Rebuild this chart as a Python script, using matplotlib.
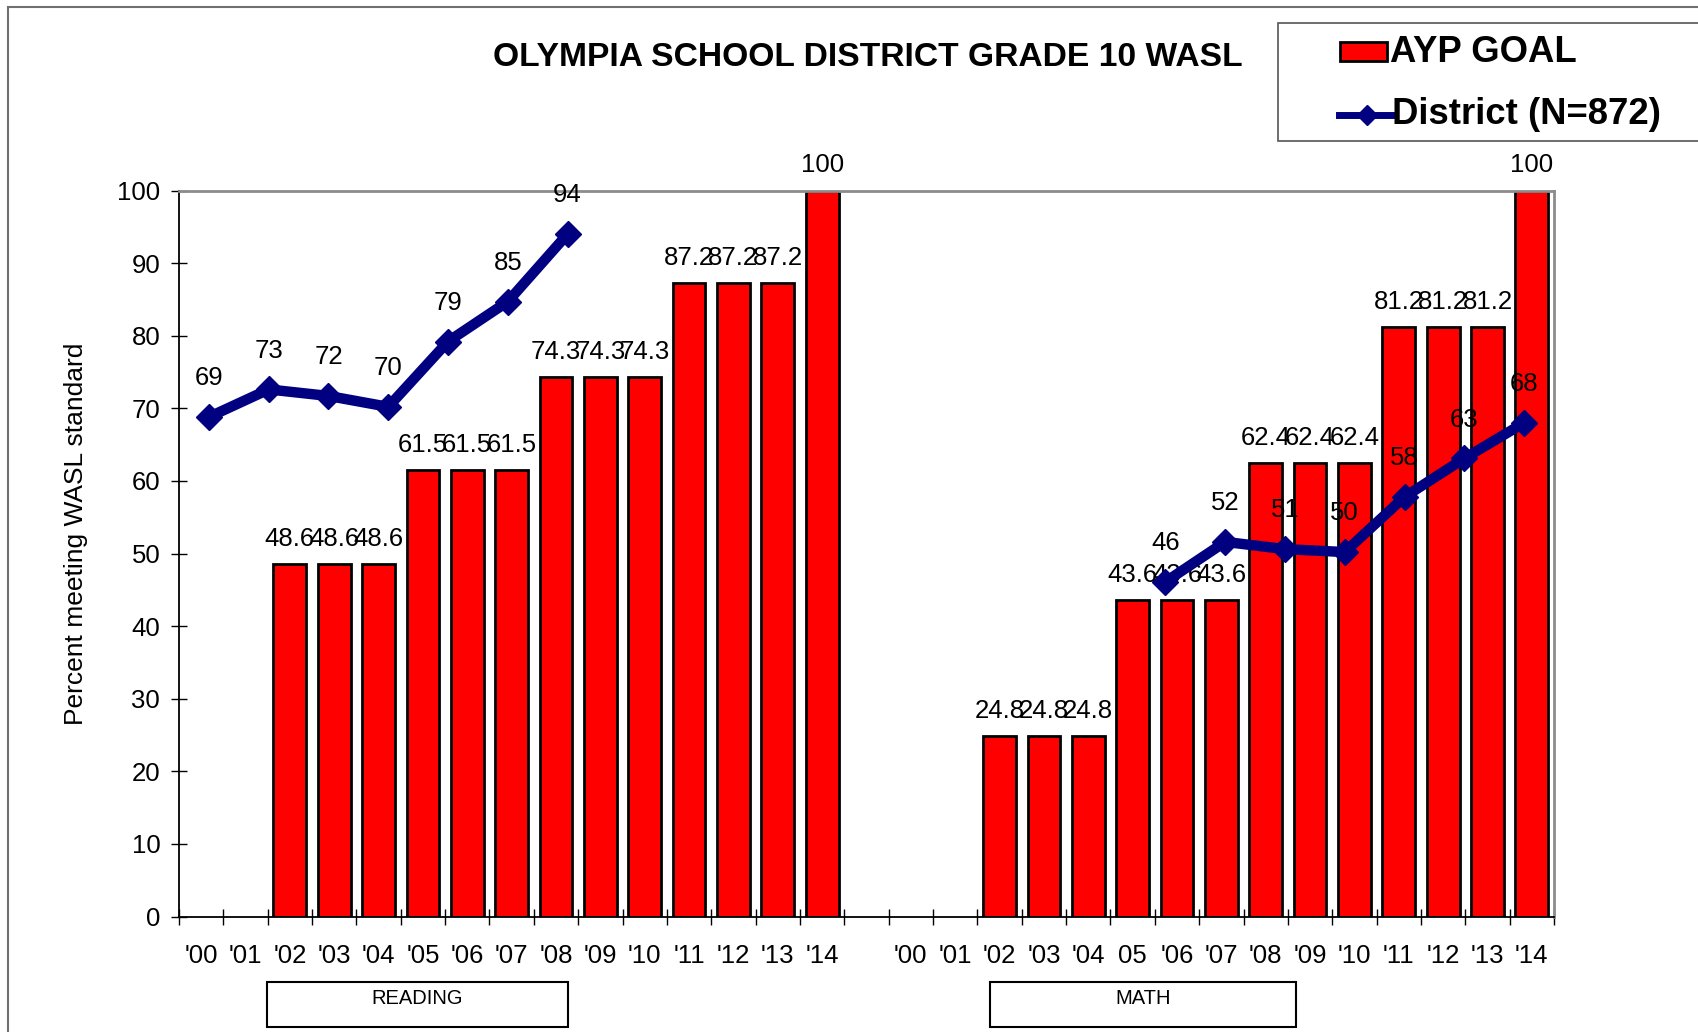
import numpy as np
import matplotlib
matplotlib.use("Agg")
import matplotlib.pyplot as plt
from matplotlib.patches import Rectangle
from matplotlib.lines import Line2D

plt.rcParams['font.family'] = ['Liberation Sans', 'DejaVu Sans']

TITLE = "OLYMPIA SCHOOL DISTRICT GRADE 10 WASL"
READING_YEARS = ["'00", "'01", "'02", "'03", "'04", "'05", "'06", "'07",
                 "'08", "'09", "'10", "'11", "'12", "'13", "'14"]
MATH_YEARS = ["'00", "'01", "'02", "'03", "'04", "05", "'06", "'07",
              "'08", "'09", "'10", "'11", "'12", "'13", "'14"]
AYP_READING = [np.nan, np.nan, 48.6, 48.6, 48.6, 61.5, 61.5, 61.5,
               74.3, 74.3, 74.3, 87.2, 87.2, 87.2, 100]
AYP_MATH = [np.nan, np.nan, 24.8, 24.8, 24.8, 43.6, 43.6, 43.6,
            62.4, 62.4, 62.4, 81.2, 81.2, 81.2, 100]
DISTRICT_READING = [68.8, 72.6, 71.7, 70.2, 79.2, 84.7, 94.0]
DISTRICT_MATH = [46.1, 51.6, 50.6, 50.2, 57.8, 63.1, 68.0]

# the district line sits on its own category axis (23 slots, math from slot 16)
LINE_SLOTS = 23
MATH_LINE_START = 16

RED = "#FF0000"
NAVY = "#000080"

W, H = 1698, 1032


def fx(px):
    return px / W


def fy(py):
    return 1 - py / H


fig = plt.figure(figsize=(W / 100, H / 100), dpi=100)
ax = fig.add_axes([fx(179), fy(916.5), fx(1554) - fx(179), fy(190.5) - fy(916.5)])

# ---- bars ----
labels = READING_YEARS + [""] + MATH_YEARS
ayp = AYP_READING + [np.nan] + AYP_MATH
x = np.arange(len(labels))
ax.bar(x, ayp, width=0.74, color=RED, edgecolor="black", linewidth=2, zorder=2)
for xi, v in zip(x, ayp):
    if np.isnan(v):
        continue
    ax.annotate(f"{v:g}", (xi, v), xytext=(0, 18), textcoords="offset points",
                ha="center", va="center", fontsize=18.5, zorder=3)

ax.set_xlim(-0.5, len(labels) - 0.5)
ax.set_ylim(0, 100)
ax.set_yticks(range(0, 101, 10))
ax.set_xticks(np.arange(-0.5, len(labels)), [""] * (len(labels) + 1))
ax.set_xticks(x, labels, minor=True)
ax.tick_params(axis="y", direction="inout", length=11, width=1, labelsize=18.5, pad=8)
ax.tick_params(axis="x", which="major", direction="inout", length=11, width=1)
ax.tick_params(axis="x", which="minor", direction="out", length=0, labelsize=18.5, pad=20)

for s in ["top", "right"]:
    ax.spines[s].set_color("#8c8c8c")
    ax.spines[s].set_linewidth(2)
for s in ["left", "bottom"]:
    ax.spines[s].set_color("black")
    ax.spines[s].set_linewidth(1.3)

# ---- district line on secondary category axis ----
ax2 = ax.twiny()
ax2.set_xlim(-0.5, LINE_SLOTS - 0.5)
ax2.set_xticks([])
for s in ax2.spines.values():
    s.set_visible(False)

pos_r = np.arange(len(DISTRICT_READING))
pos_m = np.arange(len(DISTRICT_MATH)) + MATH_LINE_START
for pos, vals in [(pos_r, DISTRICT_READING), (pos_m, DISTRICT_MATH)]:
    ax2.plot(pos, vals, color=NAVY, lw=7.5, marker="D", ms=13, mew=1, zorder=4)
    for p, v in zip(pos, vals):
        ax2.annotate(f"{v:.0f}", (p, v), xytext=(0, 28), textcoords="offset points",
                     ha="center", va="center", fontsize=18.5, zorder=5)

# ---- texts ----
fig.text(fx(76), fy(533.5), "Percent meeting WASL standard", rotation=90,
         ha="center", va="center", fontsize=19)
fig.text(fx(868), fy(57), TITLE, ha="center", va="center",
         fontsize=24.2, fontweight="bold")

# outer chart frame
fig.add_artist(Rectangle((fx(8), fy(1060)), fx(1760) - fx(8), fy(7.3) - fy(1060),
                         transform=fig.transFigure, fill=False,
                         edgecolor="#707070", lw=1.5))

# ---- legend ----
fig.add_artist(Rectangle((fx(1278), fy(141)), fx(1760) - fx(1278), fy(23.3) - fy(141),
                         transform=fig.transFigure, facecolor="white",
                         edgecolor="#555555", lw=1.2))
fig.add_artist(Rectangle((fx(1340), fy(61)), fx(1387) - fx(1340), fy(42.5) - fy(61),
                         transform=fig.transFigure, facecolor=RED,
                         edgecolor="black", lw=2))
fig.text(fx(1390), fy(53), "AYP GOAL", ha="left", va="center",
         fontsize=26.3, fontweight="bold")
fig.add_artist(Line2D([fx(1339), fx(1394)], [fy(115), fy(115)],
                      transform=fig.transFigure, color=NAVY, lw=5))
fig.add_artist(Line2D([fx(1366.5)], [fy(115)], transform=fig.transFigure,
                      color=NAVY, marker="D", ms=10, lw=0))
fig.text(fx(1392), fy(115), "District (N=872)", ha="left", va="center",
         fontsize=26.3, fontweight="bold")

# ---- subject boxes ----
for left, right, name in [(266.7, 567.5, "READING"), (990, 1296, "MATH")]:
    fig.add_artist(Rectangle((fx(left), fy(1027)), fx(right) - fx(left), fy(982) - fy(1027),
                             transform=fig.transFigure, fill=False,
                             edgecolor="black", lw=1.5))
    fig.text(fx((left + right) / 2), fy(998), name, ha="center", va="center",
             fontsize=14.5)

fig.savefig("out.png", dpi=100)
